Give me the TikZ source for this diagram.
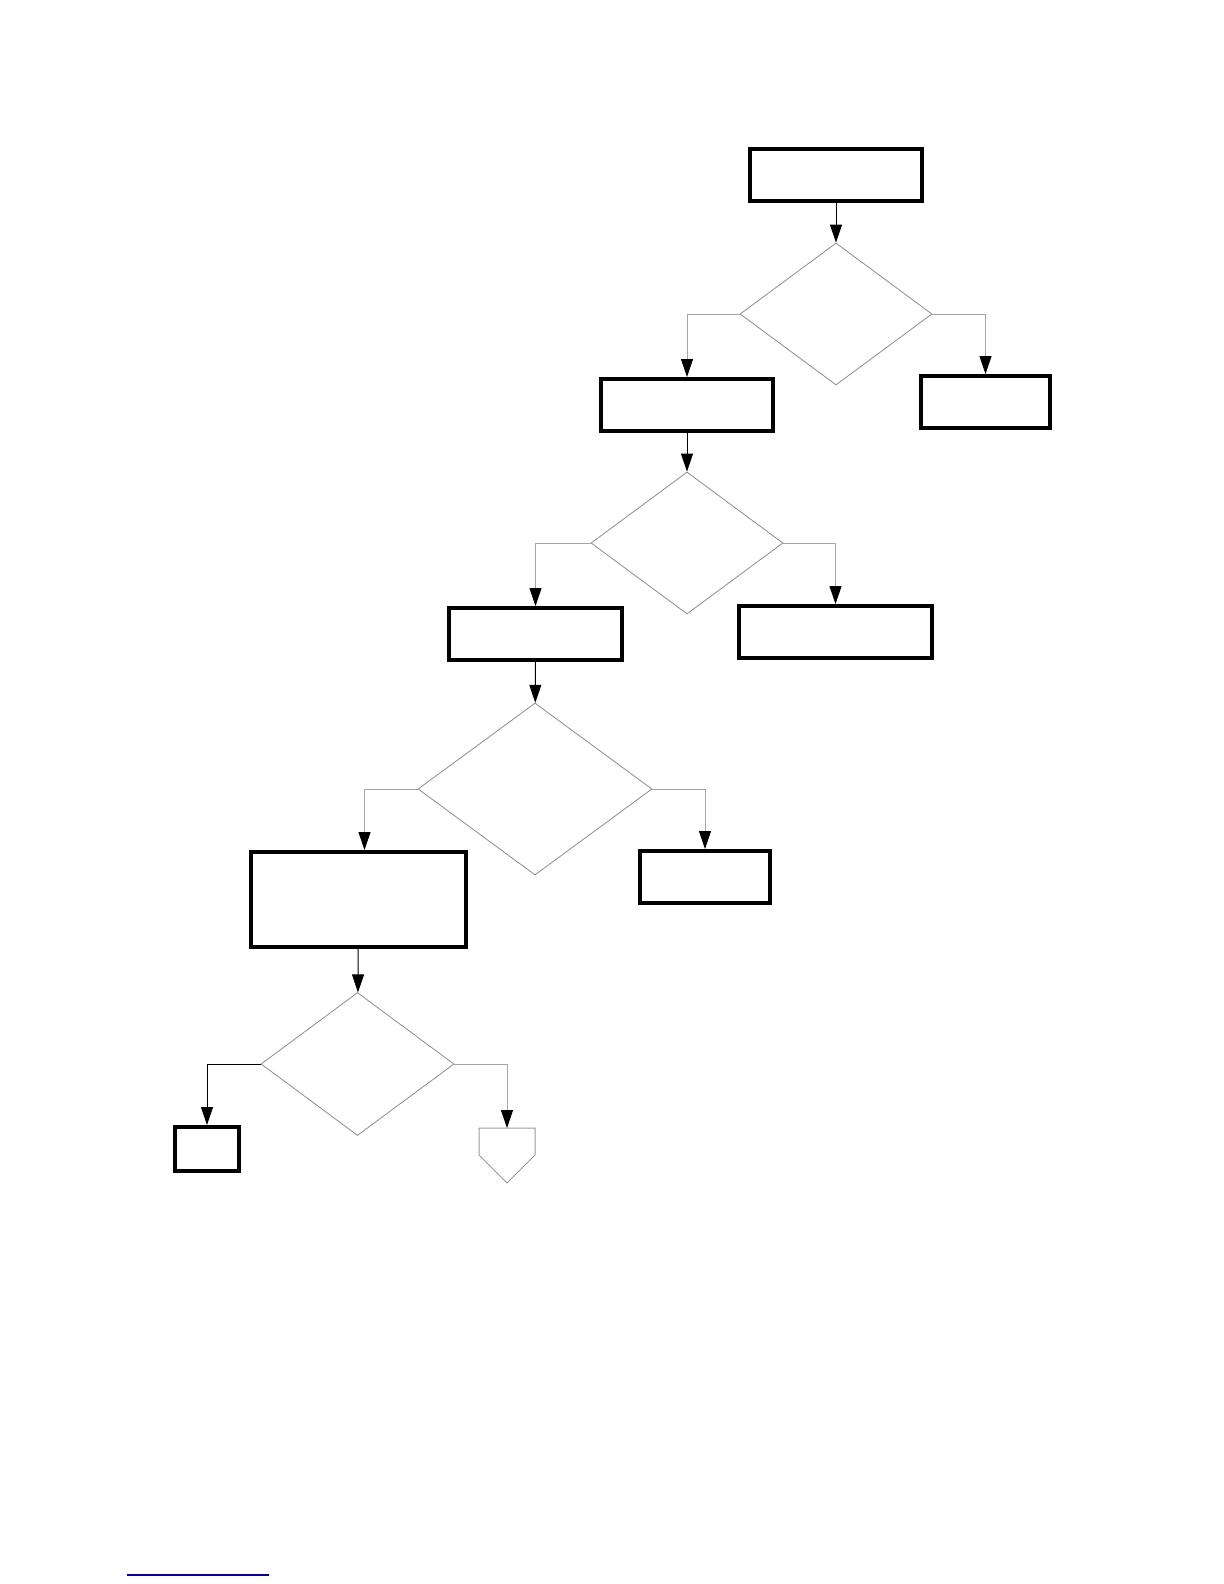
\documentclass[tikz,border=0pt]{standalone}
\usetikzlibrary{shapes.geometric,arrows.meta}
\tikzset{
  procbox/.style={draw,line width=2pt,inner sep=0pt,minimum width=86pt,minimum height=26pt},
  choice/.style={draw=gray!90,line width=0.4pt,diamond,inner sep=0pt,minimum width=96pt,minimum height=71pt},
  flow/.style={line width=0.5pt,-{Triangle[length=9pt,width=6pt,color=black]}},
  branch/.style={flow,draw=gray!70}
}
\begin{document}
\begin{tikzpicture}[x=0.5pt,y=-0.5pt]
  \useasboundingbox (0,0) rectangle (1224,1584);
  % Level 1: start box and first decision
  \node[procbox] (start) at (836,175) {};
  \node[choice] (dOne) at (836,314) {};
  \node[procbox] (boxTwo) at (687,405) {};
  \node[procbox,minimum width=64.5pt] (endOne) at (985.5,402) {};
  % Level 2
  \node[choice] (dTwo) at (687,543) {};
  \node[procbox,minimum width=86.5pt] (boxThree) at (535.5,634) {};
  \node[procbox,minimum width=96.5pt] (endTwo) at (835.5,632) {};
  % Level 3
  \node[choice,minimum width=117pt,minimum height=86pt] (dThree) at (535,789) {};
  \node[procbox,minimum width=107.5pt,minimum height=47.5pt] (boxFour) at (358.5,899.5) {};
  \node[procbox,minimum width=65pt] (endThree) at (705,877) {};
  % Level 4
  \node[choice,minimum width=96.5pt,minimum height=71.5pt] (dFour) at (357.5,1064) {};
  \node[procbox,minimum width=32pt,minimum height=22pt] (endFour) at (207,1149) {};
  % Off-page connector
  \coordinate (offpage) at (507,1128);
  \draw[gray!80,line width=0.5pt] (offpage) -- (535,1128) -- (535,1155) -- (507,1183)
    -- (479,1155) -- (479,1128) -- cycle;
  % Arrows down the main path
  \draw[flow] (start) -- (dOne);
  \draw[flow] (boxTwo) -- (dTwo);
  \draw[flow] (boxThree) -- (dThree);
  \draw[flow] (boxFour) -- (dFour);
  % Branches left and right
  \draw[branch] (dOne.west) -| (boxTwo.north);
  \draw[branch] (dOne.east) -| (endOne.north);
  \draw[branch] (dTwo.west) -| (boxThree.north);
  \draw[branch] (dTwo.east) -| (endTwo.north);
  \draw[branch] (dThree.west) -| ([xshift=3pt]boxFour.north);
  \draw[branch] (dThree.east) -| (endThree.north);
  \draw[branch,draw=black] (dFour.west) -| (endFour.north);
  \draw[branch] (dFour.east) -| (offpage);
  % Rule at the foot of the page
  \coordinate (ruleL) at (127,1575);
  \coordinate (ruleR) at (269,1575);
  \draw[blue!60!black,line width=0.6pt] (ruleL) -- (ruleR);
\end{tikzpicture}
\end{document}
